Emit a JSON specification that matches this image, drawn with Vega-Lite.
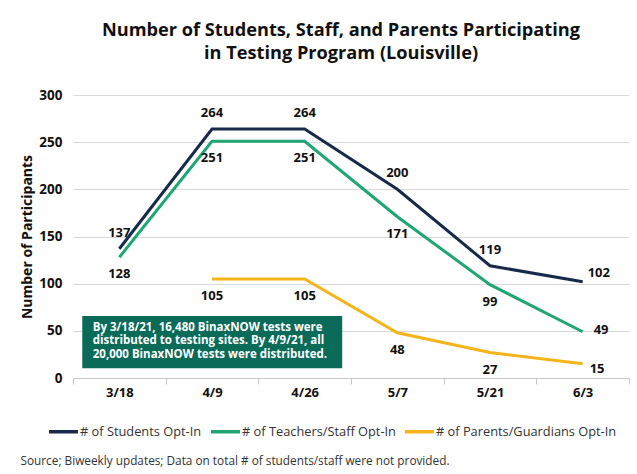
{
  "$schema": "https://vega.github.io/schema/vega-lite/v6.json",
  "autosize": "none",
  "width": 556,
  "height": 283,
  "padding": {"left": 73, "top": 95, "right": 8, "bottom": 96},
  "background": "white",
  "config": {
    "font": "Open Sans",
    "view": {"stroke": null},
    "axis": {"labelFont": "Open Sans", "titleFont": "Open Sans"}
  },
  "title": {
    "text": ["Number of Students, Staff, and Parents Participating", "in Testing Program (Louisville)"],
    "font": "Open Sans",
    "fontSize": 18.2,
    "fontWeight": "bold",
    "color": "#111111",
    "lineHeight": 22.5,
    "anchor": "middle",
    "dx": -10,
    "offset": 25
  },
  "datasets": {
    "main": [
      {"date": "3/18", "series": "# of Students Opt-In", "value": 137},
      {"date": "4/9", "series": "# of Students Opt-In", "value": 264},
      {"date": "4/26", "series": "# of Students Opt-In", "value": 264},
      {"date": "5/7", "series": "# of Students Opt-In", "value": 200},
      {"date": "5/21", "series": "# of Students Opt-In", "value": 119},
      {"date": "6/3", "series": "# of Students Opt-In", "value": 102},
      {"date": "3/18", "series": "# of Teachers/Staff Opt-In", "value": 128},
      {"date": "4/9", "series": "# of Teachers/Staff Opt-In", "value": 251},
      {"date": "4/26", "series": "# of Teachers/Staff Opt-In", "value": 251},
      {"date": "5/7", "series": "# of Teachers/Staff Opt-In", "value": 171},
      {"date": "5/21", "series": "# of Teachers/Staff Opt-In", "value": 99},
      {"date": "6/3", "series": "# of Teachers/Staff Opt-In", "value": 49},
      {"date": "4/9", "series": "# of Parents/Guardians Opt-In", "value": 105},
      {"date": "4/26", "series": "# of Parents/Guardians Opt-In", "value": 105},
      {"date": "5/7", "series": "# of Parents/Guardians Opt-In", "value": 48},
      {"date": "5/21", "series": "# of Parents/Guardians Opt-In", "value": 27},
      {"date": "6/3", "series": "# of Parents/Guardians Opt-In", "value": 15}
    ],
    "note": [
      {"x1": 0.1, "x2": 2.905, "y1": 10.3, "y2": 65.7, "tx": 0.213, "ty": 59.5, "label": "By 3/18/21, 16,480 BinaxNOW tests were\ndistributed to testing sites. By 4/9/21, all\n20,000 BinaxNOW tests were distributed."}
    ]
  },
  "resolve": {"scale": {"x": "independent"}, "axis": {"x": "independent"}},
  "layer": [
    {
      "data": {"name": "main"},
      "encoding": {
        "x": {
          "field": "date",
          "type": "nominal",
          "bandPosition": 0.5,
          "sort": ["3/18", "4/9", "4/26", "5/7", "5/21", "6/3"],
          "scale": {"type": "band", "paddingInner": 0, "paddingOuter": 0},
          "axis": {
            "title": "Source; Biweekly updates; Data on total # of students/staff were not provided.",
            "titleFontSize": 11.8,
            "titleFontWeight": "normal",
            "titleColor": "#333333",
            "titleAnchor": "start",
            "titleAlign": "left",
            "titleBaseline": "middle",
            "titleX": -53,
            "titleY": 82,
            "labelAngle": 0,
            "labelFontSize": 13,
            "labelFontWeight": "bold",
            "labelColor": "#111111",
            "labelPadding": 2,
            "tickBand": "extent",
            "tickSize": 6,
            "tickColor": "#c8c8c8",
            "domainColor": "#c8c8c8",
            "grid": false
          }
        },
        "y": {
          "field": "value",
          "type": "quantitative",
          "scale": {"domain": [0, 300], "nice": false},
          "axis": {
            "title": "Number of Participants",
            "titleFontSize": 14,
            "titleFontWeight": "bold",
            "titleColor": "#111111",
            "titlePadding": 4,
            "values": [0, 50, 100, 150, 200, 250, 300],
            "labelFontSize": 13.5,
            "labelFontWeight": "bold",
            "labelColor": "#111111",
            "labelPadding": 11,
            "ticks": false,
            "domain": false,
            "gridColor": "#d9d9d9",
            "gridWidth": 1
          }
        }
      },
      "layer": [
        {
          "mark": {"type": "line", "strokeWidth": 3},
          "encoding": {
            "color": {
              "field": "series",
              "type": "nominal",
              "sort": ["# of Students Opt-In", "# of Teachers/Staff Opt-In", "# of Parents/Guardians Opt-In"],
              "scale": {
                "domain": ["# of Students Opt-In", "# of Teachers/Staff Opt-In", "# of Parents/Guardians Opt-In"],
                "range": ["#172a4a", "#1fa672", "#f4b41a"]
              },
              "legend": {
                "title": null,
                "orient": "none",
                "direction": "horizontal",
                "legendX": -26,
                "legendY": 320,
                "symbolType": "stroke",
                "symbolSize": 841,
                "symbolStrokeWidth": 3.5,
                "labelFontSize": 12.8,
                "labelColor": "#333333",
                "labelOffset": 0,
                "columnPadding": 2,
                "labelLimit": 300
              }
            }
          }
        },
        {
          "transform": [{"filter": "datum.series == '# of Students Opt-In' && datum.date != '6/3'"}],
          "mark": {"type": "text", "dy": -16, "fontSize": 13, "fontWeight": "bold", "color": "#111111"},
          "encoding": {"text": {"field": "value", "type": "quantitative"}}
        },
        {
          "transform": [{"filter": "datum.series != '# of Students Opt-In' && datum.date != '6/3'"}],
          "mark": {"type": "text", "dy": 17, "fontSize": 13, "fontWeight": "bold", "color": "#111111"},
          "encoding": {"text": {"field": "value", "type": "quantitative"}}
        },
        {
          "transform": [{"filter": "datum.series == '# of Students Opt-In' && datum.date == '6/3'"}],
          "mark": {"type": "text", "align": "left", "dx": 5, "dy": -9, "fontSize": 13, "fontWeight": "bold", "color": "#111111"},
          "encoding": {"text": {"field": "value", "type": "quantitative"}}
        },
        {
          "transform": [{"filter": "datum.series == '# of Teachers/Staff Opt-In' && datum.date == '6/3'"}],
          "mark": {"type": "text", "align": "left", "dx": 11, "dy": -2, "fontSize": 13, "fontWeight": "bold", "color": "#111111"},
          "encoding": {"text": {"field": "value", "type": "quantitative"}}
        },
        {
          "transform": [{"filter": "datum.series == '# of Parents/Guardians Opt-In' && datum.date == '6/3'"}],
          "mark": {"type": "text", "align": "left", "dx": 7, "dy": 5, "fontSize": 13, "fontWeight": "bold", "color": "#111111"},
          "encoding": {"text": {"field": "value", "type": "quantitative"}}
        }
      ]
    },
    {
      "data": {"name": "note"},
      "layer": [
        {
          "mark": {"type": "rect", "color": "#0a6b58"},
          "encoding": {
            "x": {"field": "x1", "type": "quantitative", "scale": {"domain": [0, 6], "nice": false, "zero": false}, "axis": null},
            "x2": {"field": "x2"},
            "y": {"field": "y1", "type": "quantitative"},
            "y2": {"field": "y2"}
          }
        },
        {
          "mark": {"type": "text", "align": "left", "baseline": "top", "lineBreak": "\n", "lineHeight": 13.5, "fontSize": 11.5, "fontWeight": "bold", "color": "white"},
          "encoding": {
            "x": {"field": "tx", "type": "quantitative", "scale": {"domain": [0, 6], "nice": false, "zero": false}, "axis": null},
            "y": {"field": "ty", "type": "quantitative"},
            "text": {"field": "label", "type": "nominal"}
          }
        }
      ]
    }
  ]
}
